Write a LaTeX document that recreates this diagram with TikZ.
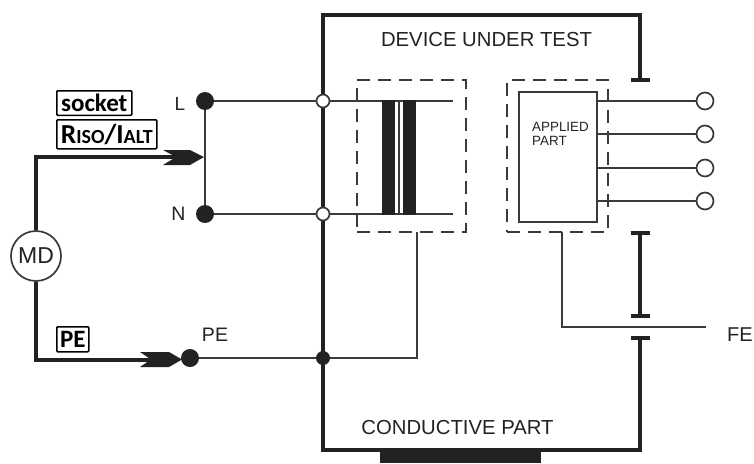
\documentclass[tikz,border=0pt]{standalone}
\usepackage{fontspec}
\setmainfont{Liberation Sans}
\newfontfamily\calib{Carlito}
\definecolor{ink}{HTML}{222222}
\definecolor{wire}{HTML}{3A3A3A}
\begin{document}
\begin{tikzpicture}[x=1pt,y=-1pt,
  thin wire/.style={draw=wire,line width=2.1pt},
  heavy wire/.style={draw=ink,line width=3.1pt},
  dashbox/.style={draw=wire,line width=1.8pt,dash pattern=on 13pt off 8pt},
  blackdot/.style={circle,fill=ink,draw=none,inner sep=0pt,minimum size=#1},
  opendot/.style={circle,fill=white,draw=wire,line width=1.7pt,inner sep=0pt,minimum size=#1},
  lab/.style={inner sep=0pt,text=ink,font=\fontsize{#1}{#1}\selectfont},
  tag/.style={draw=black,line width=1.5pt,rounded corners=1pt,inner sep=0pt,anchor=north west,text=black,font=\calib\bfseries\fontsize{25}{25}\selectfont},
  fletch/.style={fill=ink,draw=none}]
\useasboundingbox (0,0) rectangle (754,463);

% enclosure
\coordinate (encA) at (640,80);
\coordinate (encB) at (640,338);
\draw[heavy wire] (encA) -- (640,15) -- (323,15) -- (323,450) -- (640,450) -- (encB);
\fill[ink] (380,450) rectangle (541,463);

% isolation bars
\coordinate (barC) at (640,233);
\coordinate (barD) at (640,316);
\draw[heavy wire] (barC) -- (barD);
\foreach \y in {80,233,316,338} \draw[draw=ink,line width=3.1pt] (630.5,\y) -- (649.5,\y);

% terminals
\node[blackdot=18pt] (L) at (205,101) {};
\node[blackdot=18pt] (N) at (205,214) {};
\node[blackdot=18pt] (PE) at (190,358) {};
\node[blackdot=14pt] (J) at (323,358) {};
\coordinate (Tu) at (453,101);
\coordinate (Tl) at (453,214);
\draw[thin wire] (L) -- (Tu);
\draw[thin wire] (N) -- (Tl);
\draw[thin wire] (L) -- (N);
\draw[thin wire] (PE) -- (J);
\node[opendot=13pt] (JL) at (323,101) {};
\node[opendot=13pt] (JN) at (323,214) {};

% transformer
\fill[ink] (382,100) rectangle (395,215);
\fill[ink] (403,100) rectangle (416,215);
\draw[thin wire] (399,100) -- (399,215);
\node[dashbox,minimum width=109pt,minimum height=152pt,inner sep=0pt] (B1) at (411.5,156) {};
\draw[thin wire] (417,232) |- (J);

% applied part
\node[dashbox,minimum width=101pt,minimum height=152pt,inner sep=0pt] (B2) at (557.5,156) {};
\node[draw=wire,line width=2pt,minimum width=78pt,minimum height=130pt,inner sep=0pt] (AP) at (558,157) {};
\node[lab=13.4,align=left,anchor=north west] (APt) at (532,122.5) {\baselineskip=14.5pt APPLIED\\PART};
\foreach \n/\y in {a/101,b/134,c/168,d/201}{
  \draw[thin wire] (597,\y) -- (700,\y);
  \node[opendot=17pt] (O\n) at (705,\y) {};
}
\coordinate (FEend) at (706,327);
\draw[thin wire] (562,232) |- (FEend);
\node[lab=20,anchor=west] (FE) at (727,335) {FE};

% labels
\node[lab=20.3] (DUT) at (486.5,40) {DEVICE UNDER TEST};
\node[lab=20.3] (CP) at (457.5,428) {CONDUCTIVE PART};
\node[lab=19] (Lt) at (180,103.5) {L};
\node[lab=19.5] (Nt) at (178.5,214) {N};
\node[lab=19.5] (PEt) at (215,335) {PE};

% measuring device
\node[circle,draw=wire,fill=white,line width=1.7pt,minimum size=50pt,inner sep=0pt,text=ink,font=\fontsize{23}{23}\selectfont] (MD) at (36,256) {MD};
\coordinate (A1) at (176,157);
\coordinate (A2) at (152,360);
\draw[heavy wire] (MD.north) -- (36,157) -- (A1);
\draw[heavy wire] (MD.south) -- (36,360) -- (A2);
\fill[fletch] (163,150) -- (190,150) -- (204,157) -- (190,165) -- (163,165) -- (176,157) -- cycle;
\fill[fletch] (140,352) -- (169,352) -- (182,359.5) -- (169,367) -- (140,367) -- (151,359.5) -- cycle;

% tags
\node[tag,minimum width=75pt,minimum height=24.5pt] (socket) at (56,90) {socket};
\node[tag,minimum width=100pt,minimum height=29pt] (riso) at (56,119) {\fontsize{27.5}{27.5}\selectfont R\fontsize{20}{20}\selectfont ISO\fontsize{27.5}{27.5}\selectfont/I\fontsize{20}{20}\selectfont ALT};
\node[tag,minimum width=32pt,minimum height=25pt] (petag) at (56,326) {PE};
\end{tikzpicture}
\end{document}
